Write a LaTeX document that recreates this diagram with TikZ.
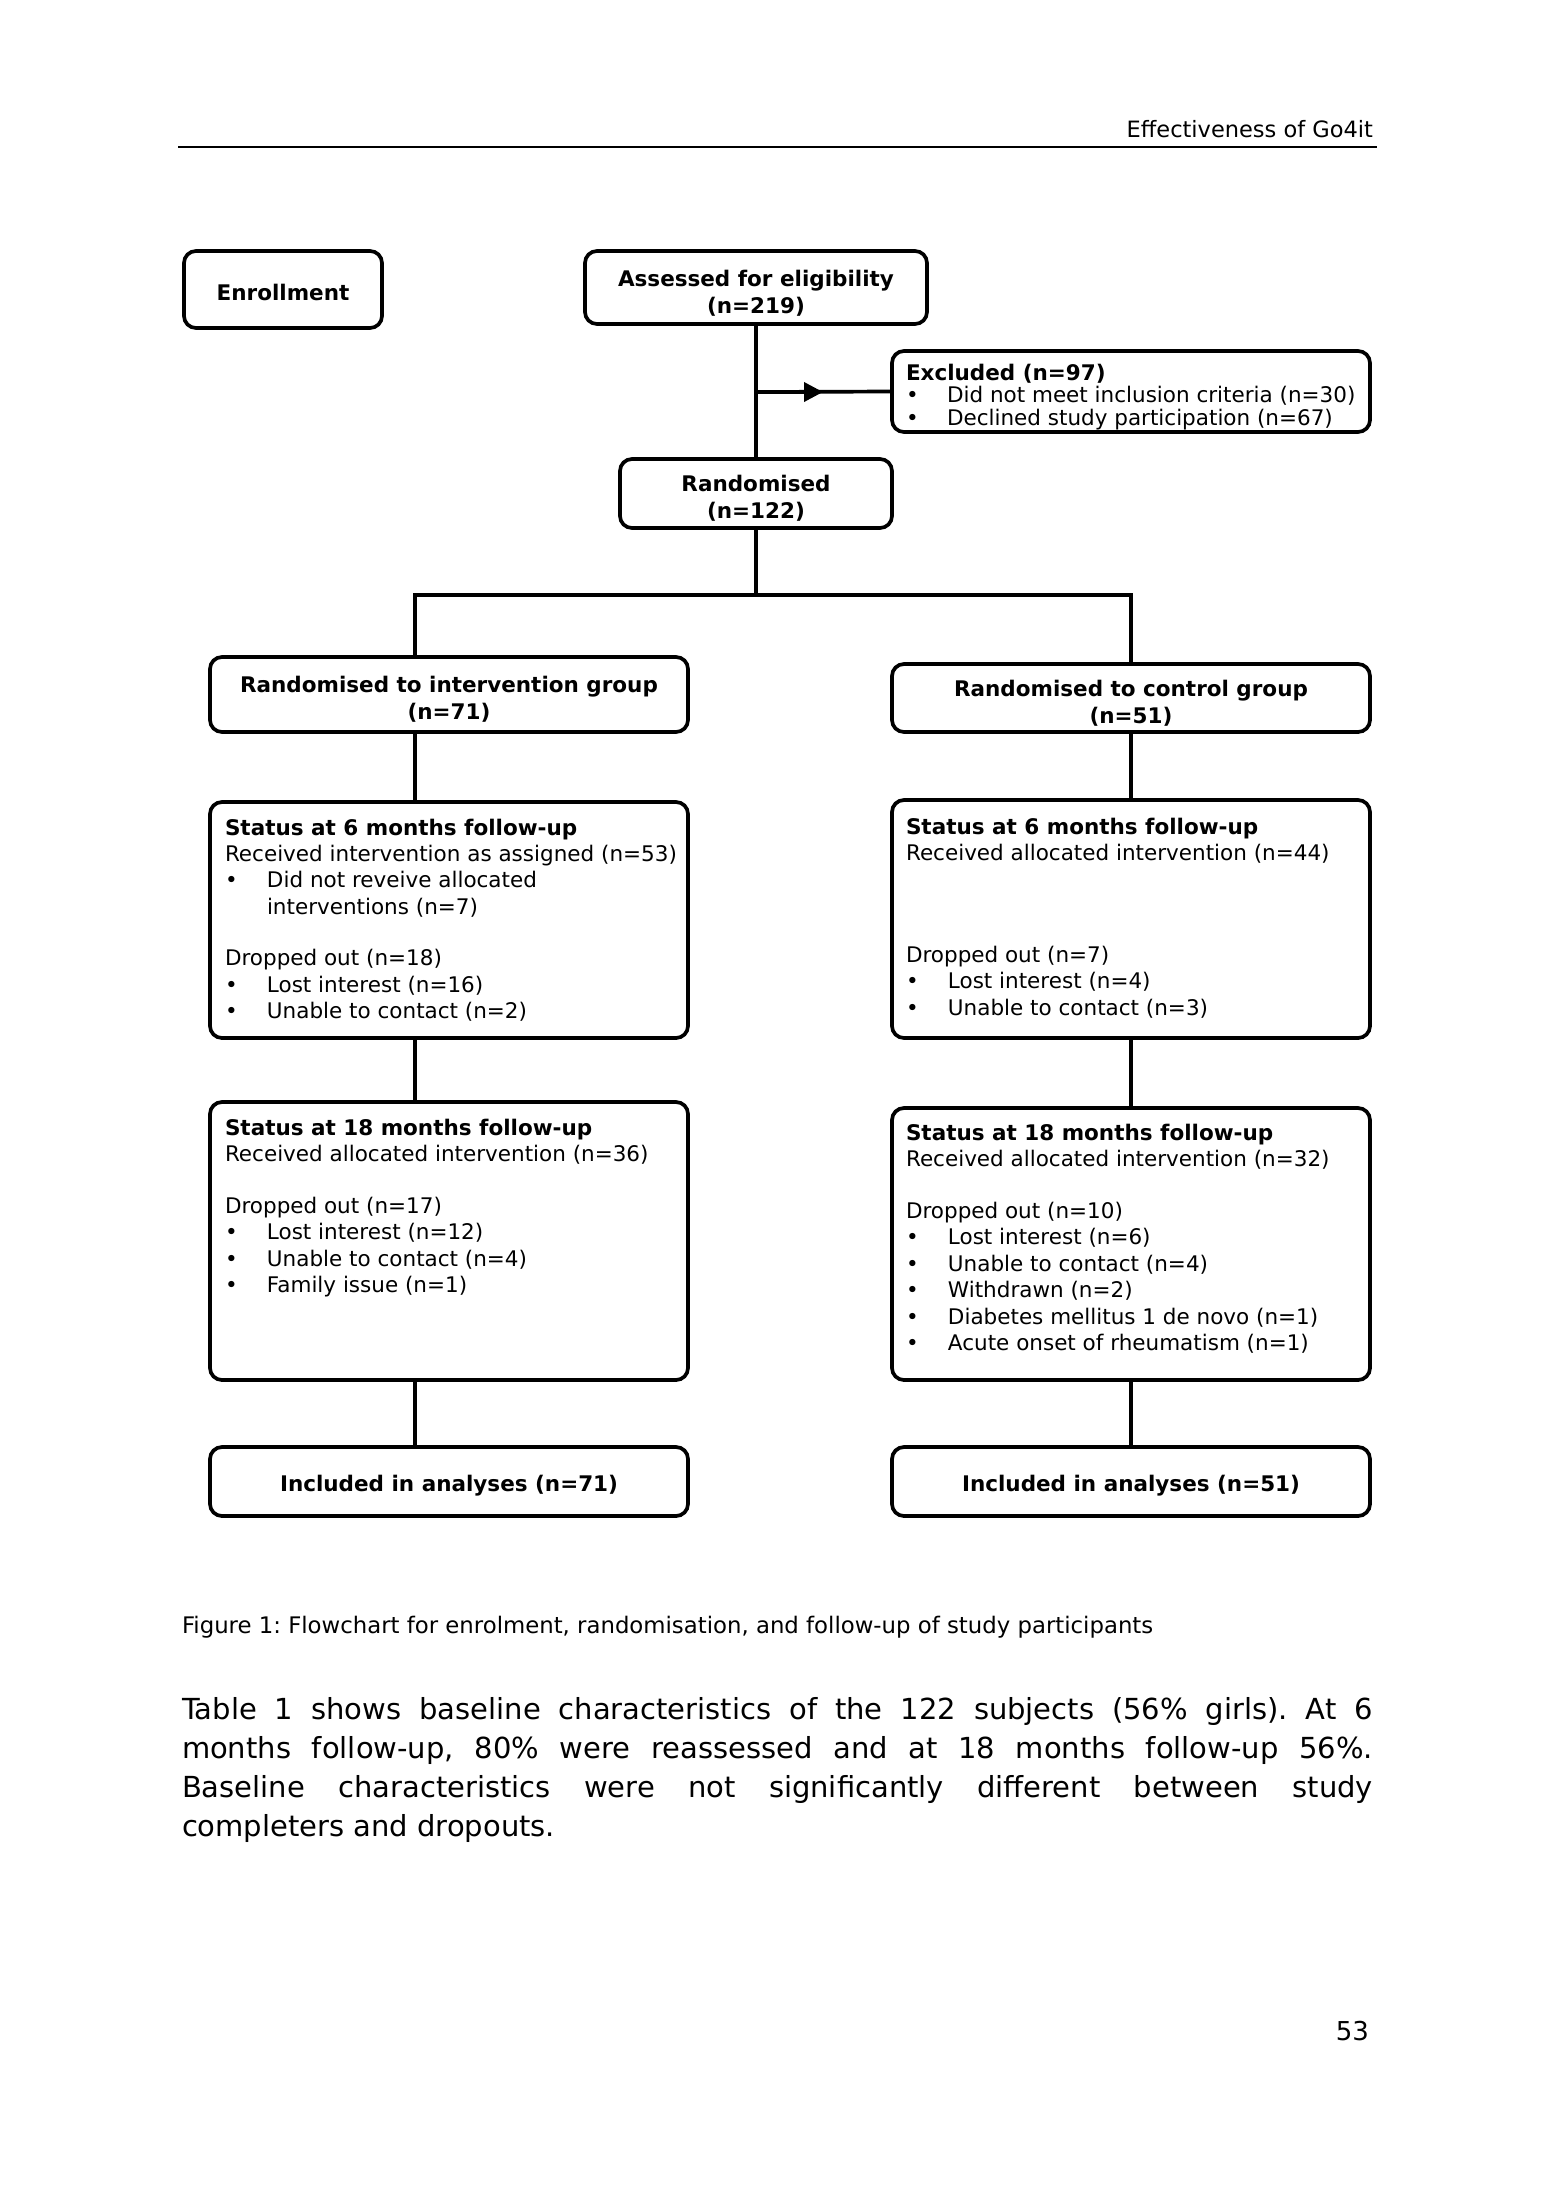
\documentclass[tikz,border=0pt]{standalone}
\usepackage{fontspec}
\setmainfont{DejaVu Sans}
\usetikzlibrary{arrows.meta}
\frenchspacing
\newcommand\bitem{\makebox[42pt][l]{\textbullet}}
\newcommand\bskip{\makebox[42pt][l]{}}
\begin{document}
\begin{tikzpicture}[x=1pt,y=-1pt,
  box/.style={draw, line width=3.7pt, rounded corners=12pt, inner sep=0pt, outer sep=0pt, fill=white},
  conn/.style={line width=3.7pt},
  btxt/.style={font=\fontsize{21.5}{27}\selectfont\bfseries, align=center, inner sep=0pt, yshift=-5pt},
  ltxt/.style={font=\fontsize{21.5}{26.4}\selectfont, anchor=base west, inner sep=0pt, outer sep=0pt},
  plain/.style={inner sep=0pt, outer sep=0pt},
]
\fill[white] (0,0) rectangle (1555,2196);
\useasboundingbox (0,0) rectangle (1555,2196);

% header
\node[plain, anchor=base east, font=\fontsize{22.5}{27}\selectfont] (hdr) at (1373,137) {Effectiveness of Go4it};
\draw[line width=1.6pt] (178,147) -- (1377,147);

% top row
\node[box, minimum width=198pt, minimum height=77pt] (enroll) at (283,289.5) {};
\node[btxt, yshift=2pt] (enrolltxt) at (enroll) {Enrollment};
\node[box, minimum width=342pt, minimum height=73pt] (assess) at (756,287.5) {};
\node[btxt, yshift=-1pt] (assesstxt) at (assess) {Assessed for eligibility\\(n=219)};
\node[box, minimum width=478pt, minimum height=81pt] (excl) at (1131,391.5) {};
\node[ltxt, font=\fontsize{21.5}{22.5}\selectfont] (excltxt) at (906,380) {\parbox[t]{470pt}{\raggedright
\textbf{Excluded (n=97)}\\
\makebox[41pt][l]{\textbullet}Did not meet inclusion criteria (n=30)\\
\makebox[41pt][l]{\textbullet}Declined study participation (n=67)}};
\node[box, minimum width=272pt, minimum height=69pt] (rand) at (756,493.5) {};
\node[btxt] (randtxt) at (rand) {Randomised\\(n=122)};

% group boxes
\node[box, minimum width=478pt, minimum height=75pt] (interv) at (449,694.5) {};
\node[btxt] (intervtxt) at (interv) {Randomised to intervention group\\(n=71)};
\node[box, minimum width=478pt, minimum height=68pt] (control) at (1131,698) {};
\node[btxt] (controltxt) at (control) {Randomised to control group\\(n=51)};

% 6 months
\node[box, minimum width=478pt, minimum height=236pt] (sixl) at (449,920) {};
\node[ltxt] (sixltxt) at (225,835) {\parbox[t]{470pt}{\raggedright
\textbf{Status at 6 months follow-up}\\
Received intervention as assigned (n=53)\\
\bitem Did not reveive allocated\\
\bskip interventions (n=7)\\[25pt]
Dropped out (n=18)\\
\bitem Lost interest (n=16)\\
\bitem Unable to contact (n=2)}};

\node[box, minimum width=478pt, minimum height=238pt] (sixr) at (1131,919) {};
\node[ltxt] (sixrtxt) at (906,834) {\parbox[t]{460pt}{\raggedright
\textbf{Status at 6 months follow-up}\\
Received allocated intervention (n=44)\\[75.6pt]
Dropped out (n=7)\\
\bitem Lost interest (n=4)\\
\bitem Unable to contact (n=3)}};

% 18 months
\node[box, minimum width=478pt, minimum height=278pt] (eightl) at (449,1241) {};
\node[ltxt] (eightltxt) at (225,1135) {\parbox[t]{470pt}{\raggedright
\textbf{Status at 18 months follow-up}\\
Received allocated intervention (n=36)\\[25.6pt]
Dropped out (n=17)\\
\bitem Lost interest (n=12)\\
\bitem Unable to contact (n=4)\\
\bitem Family issue (n=1)}};

\node[box, minimum width=478pt, minimum height=272pt] (eightr) at (1131,1244) {};
\node[ltxt] (eightrtxt) at (906,1140) {\parbox[t]{460pt}{\raggedright
\textbf{Status at 18 months follow-up}\\
Received allocated intervention (n=32)\\[25.6pt]
Dropped out (n=10)\\
\bitem Lost interest (n=6)\\
\bitem Unable to contact (n=4)\\
\bitem Withdrawn (n=2)\\
\bitem Diabetes mellitus 1 de novo (n=1)\\
\bitem Acute onset of rheumatism (n=1)}};

% included
\node[box, minimum width=478pt, minimum height=69pt] (incl) at (449,1481.5) {};
\node[btxt, yshift=1pt] (incltxt) at (incl) {Included in analyses (n=71)};
\node[box, minimum width=478pt, minimum height=69pt] (incr) at (1131,1481.5) {};
\node[btxt, yshift=1pt] (incrtxt) at (incr) {Included in analyses (n=51)};

% connectors
\coordinate (lx) at (415,0);
\coordinate (split) at (756,595);
\coordinate (junc) at (756,392);
\coordinate (tip) at (823,392);
\draw[conn] (assess.south) -- (rand.north);
\draw[conn] (junc) -- (excl.west);
\draw[conn, -{Triangle[length=19pt,width=19pt]}] (junc) -- (tip);
\draw[conn] (rand.south) -- (split);
\draw[conn] (interv.north -| lx) |- (split) -| (control.north);
\draw[conn] (interv.south -| lx) -- (sixl.north -| lx);
\draw[conn] (sixl.south -| lx) -- (eightl.north -| lx);
\draw[conn] (eightl.south -| lx) -- (incl.north -| lx);
\draw[conn] (control.south) -- (sixr.north);
\draw[conn] (sixr.south) -- (eightr.north);
\draw[conn] (eightr.south) -- (incr.north);

% caption and text
\node[plain, anchor=base west, font=\fontsize{22.8}{27}\selectfont] (cap) at (182,1633) {Figure 1: Flowchart for enrolment, randomisation, and follow-up of study participants};
\node[plain, anchor=base west, font=\fontsize{29}{39.2}\selectfont] (para) at (182,1719) {\parbox[t]{1191pt}{\raggedright
\makebox[1191pt][s]{Table 1 shows baseline characteristics of the 122 subjects (56\% girls). At 6}\\
\makebox[1191pt][s]{months follow-up, 80\% were reassessed and at 18 months follow-up 56\%.}\\
\makebox[1191pt][s]{Baseline characteristics were not significantly different between study}\\
completers and dropouts.}};
\node[plain, anchor=base east, font=\fontsize{26}{30}\selectfont] (pg) at (1369,2040) {53};
\end{tikzpicture}
\end{document}
